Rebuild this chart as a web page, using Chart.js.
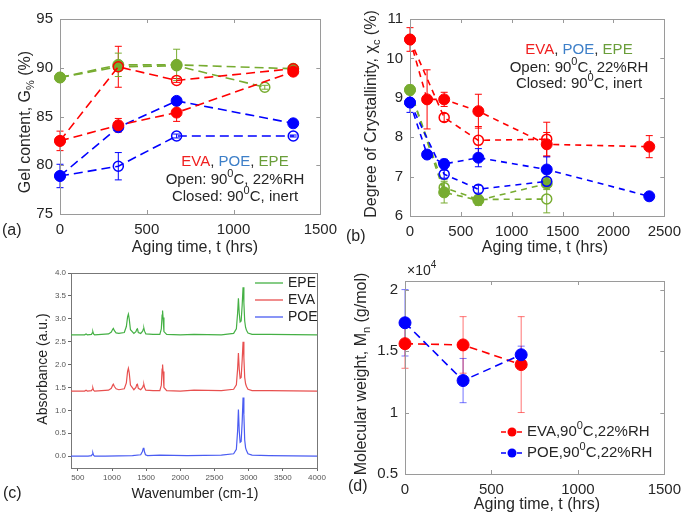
<!DOCTYPE html>
<html>
<head>
<meta charset="utf-8">
<script src="https://cdn.jsdelivr.net/npm/chart.js@4.4.1/dist/chart.umd.min.js"></script>
<style>
  body { margin: 0; background: #fff; }
  canvas { position: absolute; }
</style>
</head>
<body>
<canvas id="gelChart" width="344" height="256" style="left:0;top:0"></canvas>
<canvas id="crystChart" width="344" height="256" style="left:344px;top:0"></canvas>
<canvas id="ftirChart" width="344" height="256" style="left:0;top:256px"></canvas>
<canvas id="mnChart" width="344" height="256" style="left:344px;top:256px"></canvas>
<script>
// ---- (a) gel content, % ----
const gelTimes = [0, 336, 672, 1344];
const gelEpeClosedTimes = [0, 336, 672, 1180];
const gelEvaOpen = [82.5, 84.1, 85.4, 89.6];
const gelEvaOpenErr = [1.0, 0.7, 0.9, 0.2];
const gelEvaClosed = [82.5, 90.1, 88.7, 89.9];
const gelEvaClosedErr = [0, 2.1, 0.2, 0.2];
const gelPoeOpen = [78.9, 83.9, 86.6, 84.3];
const gelPoeOpenErr = [1.2, 0.3, 0.2, 0.2];
const gelPoeClosed = [78.9, 79.9, 83.0, 83.0];
const gelPoeClosedErr = [0, 1.4, 0.2, 0.1];
const gelEpeOpen = [89.0, 90.3, 90.3, 89.9];
const gelEpeOpenErr = [0.2, 1.2, 1.6, 0.3];
const gelEpeClosed = [89.0, 90.1, 90.2, 88.0];
const gelEpeClosedErr = [0, 0.4, 0.3, 0.2];
const gelXTicks = [0, 500, 1000, 1500];
const gelYTicks = [75, 80, 85, 90, 95];

// ---- (b) degree of crystallinity, % ----
const crOpenTimes = [0, 168, 336, 672, 1344, 2352];
const crShortTimes = [0, 336, 672, 1344];
const crEvaOpen = [10.48, 8.96, 8.96, 8.66, 7.82, 7.76];
const crEvaOpenErr = [0.3, 0.75, 0.18, 0.43, 0.3, 0.28];
const crEvaClosed = [10.48, 8.5, 7.92, 7.95];
const crEvaClosedErr = [0, 0.1, 0.35, 0.43];
const crPoeOpen = [8.88, 7.56, 7.32, 7.48, 7.18, 6.5];
const crPoeOpenErr = [0.25, 0.05, 0.12, 0.23, 0.32, 0.05];
const crPoeClosed = [8.88, 7.06, 6.68, 6.88];
const crPoeClosedErr = [0, 0.1, 0.1, 0.1];
const crEpeOpen = [9.2, 6.6, 6.4, 6.82];
const crEpeOpenErr = [0.12, 0.27, 0.13, 0.15];
const crEpeClosed = [9.2, 6.72, 6.42, 6.43];
const crEpeClosedErr = [0, 0.2, 0.1, 0.35];
const crXTicks = [0, 500, 1000, 1500, 2000, 2500];
const crYTicks = [6, 7, 8, 9, 10, 11];

// ---- (c) FTIR spectra ----
const wnPoe = [400, 650, 700, 712, 720, 730, 745, 900, 1300, 1420, 1445, 1458, 1466, 1474, 1490, 1520,
  1700, 2100, 2600, 2780, 2820, 2838, 2850, 2862, 2875, 2890, 2905, 2918, 2930, 2942, 2955, 2968,
  2990, 3050, 3300, 4000];
const absPoe = [0.00, 0.00, 0.01, 0.04, 0.07, 0.02, 0.00, 0.00, 0.01, 0.03, 0.10, 0.17, 0.18, 0.10, 0.03, 0.01,
  0.02, 0.01, 0.02, 0.05, 0.15, 0.55, 1.02, 0.55, 0.30, 0.32, 0.75, 1.28, 0.90, 0.35, 0.18, 0.12,
  0.05, 0.02, 0.01, 0.00];
const wnEvaEpe = [400, 600, 620, 640, 700, 712, 720, 730, 745, 950, 990, 1010, 1020, 1035, 1060, 1100,
  1180, 1210, 1228, 1240, 1252, 1270, 1320, 1350, 1362, 1372, 1385, 1420, 1448, 1460, 1467, 1476,
  1495, 1600, 1700, 1722, 1733, 1740, 1747, 1760, 1800, 2000, 2200, 2600, 2780, 2820, 2838, 2850,
  2862, 2875, 2890, 2905, 2918, 2930, 2942, 2955, 2968, 2990, 3050, 3300, 4000];
const absEva = [1.42, 1.42, 1.44, 1.42, 1.43, 1.46, 1.49, 1.44, 1.42, 1.44, 1.48, 1.55, 1.57, 1.52, 1.47, 1.45,
  1.47, 1.60, 1.85, 1.92, 1.82, 1.55, 1.45, 1.50, 1.56, 1.57, 1.48, 1.45, 1.50, 1.55, 1.56, 1.50,
  1.44, 1.43, 1.43, 1.55, 1.90, 2.00, 1.85, 1.50, 1.43, 1.42, 1.44, 1.43, 1.46, 1.56, 1.90, 2.25,
  1.90, 1.70, 1.72, 2.10, 2.50, 2.15, 1.72, 1.58, 1.52, 1.46, 1.43, 1.43, 1.42];
const absEpe = [2.65, 2.65, 2.67, 2.65, 2.66, 2.69, 2.72, 2.67, 2.65, 2.67, 2.71, 2.77, 2.79, 2.74, 2.69, 2.68,
  2.70, 2.83, 3.04, 3.10, 3.00, 2.76, 2.68, 2.72, 2.77, 2.78, 2.70, 2.68, 2.73, 2.78, 2.79, 2.73,
  2.67, 2.66, 2.66, 2.78, 3.08, 3.18, 3.03, 2.72, 2.66, 2.65, 2.66, 2.65, 2.68, 2.78, 3.12, 3.45,
  3.12, 2.93, 2.95, 3.30, 3.69, 3.35, 2.95, 2.81, 2.75, 2.69, 2.66, 2.66, 2.65];
const ftirXTicks = [500, 1000, 1500, 2000, 2500, 3000, 3500, 4000];
const ftirYTicks = [0, 0.5, 1, 1.5, 2, 2.5, 3, 3.5, 4];

// ---- (d) number-average molecular weight, x10^4 g/mol ----
const mnTimes = [0, 336, 672];
const mnEva = [1.56, 1.55, 1.39];
const mnEvaErr = [0.2, 0.23, 0.39];
const mnPoe = [1.73, 1.26, 1.47];
const mnPoeErr = [0.27, 0.18, 0.07];
const mnXTicks = [0, 500, 1000, 1500];
const mnYTicks = [0.5, 1, 1.5, 2];

const RED = '#ff0000';
const BLUE = '#0000ff';
const GREEN = '#77ac30';
const TXT = '#262626';

Chart.defaults.font.family = "'Liberation Sans', Arial, sans-serif";
Chart.defaults.animation = false;
Chart.defaults.plugins.legend.display = false;
Chart.defaults.plugins.tooltip.enabled = false;

// Vertical error bars with caps, drawn under the markers
const errorBarPlugin = {
    id: 'errorBars',
    beforeDatasetsDraw(chart) {
        const ctx = chart.ctx;
        const yScale = chart.scales.y;
        chart.data.datasets.forEach((ds, i) => {
            if (!ds.errors) return;
            const meta = chart.getDatasetMeta(i);
            ctx.save();
            ctx.strokeStyle = ds.errorColor || ds.borderColor;
            ctx.lineWidth = 1;
            meta.data.forEach((pt, j) => {
                const e = ds.errors[j];
                if (!e) return;
                const v = ds.data[j].y;
                const top = yScale.getPixelForValue(v + e);
                const bot = yScale.getPixelForValue(v - e);
                ctx.beginPath();
                ctx.moveTo(pt.x, top); ctx.lineTo(pt.x, bot);
                ctx.moveTo(pt.x - 3.5, top); ctx.lineTo(pt.x + 3.5, top);
                ctx.moveTo(pt.x - 3.5, bot); ctx.lineTo(pt.x + 3.5, bot);
                ctx.stroke();
            });
            ctx.restore();
        });
    }
};

// Box around the plot area, optionally with inward ticks on every side
const framePlugin = {
    id: 'frame',
    beforeDatasetsDraw(chart, args, opts) {
        const { ctx, chartArea: a, scales } = chart;
        ctx.save();
        ctx.strokeStyle = opts.color || '#999';
        ctx.lineWidth = 1;
        ctx.strokeRect(Math.round(a.left) + 0.5, Math.round(a.top) + 0.5,
            Math.round(a.right - a.left), Math.round(a.bottom - a.top));
        if (opts.inwardTicks) {
            const len = 4;
            ctx.beginPath();
            scales.x.ticks.forEach(t => {
                const px = Math.round(scales.x.getPixelForValue(t.value)) + 0.5;
                ctx.moveTo(px, a.bottom); ctx.lineTo(px, a.bottom - len);
                ctx.moveTo(px, a.top); ctx.lineTo(px, a.top + len);
            });
            scales.y.ticks.forEach(t => {
                const py = Math.round(scales.y.getPixelForValue(t.value)) + 0.5;
                ctx.moveTo(a.left, py); ctx.lineTo(a.left + len, py);
                ctx.moveTo(a.right, py); ctx.lineTo(a.right - len, py);
            });
            ctx.stroke();
        }
        ctx.restore();
    }
};

function fontFor(part, size) {
    const s = (part.sub || part.sup) ? Math.round(size * 0.7) : size;
    return s + "px 'Liberation Sans', Arial, sans-serif";
}

// Text with coloured runs, subscripts and superscripts
function drawRich(ctx, item) {
    const size = item.size || 15;
    const parts = item.parts.map(p => (typeof p === 'string' ? { t: p } : p));
    ctx.save();
    ctx.translate(item.x, item.y);
    if (item.rotate) ctx.rotate(item.rotate);
    ctx.textBaseline = 'middle';
    ctx.textAlign = 'left';
    let total = 0;
    const widths = parts.map(p => {
        ctx.font = fontFor(p, size);
        const w = ctx.measureText(p.t).width;
        total += w;
        return w;
    });
    let x = item.align === 'left' ? 0 : -total / 2;
    parts.forEach((p, i) => {
        ctx.font = fontFor(p, size);
        ctx.fillStyle = p.color || item.color || TXT;
        const dy = p.sub ? size * 0.3 : p.sup ? -size * 0.38 : 0;
        ctx.fillText(p.t, x, dy);
        x += widths[i];
    });
    ctx.restore();
}

// Titles, notes and hand-drawn legends; kept out of chart options so
// the option resolver leaves the plain strings alone
function makeTextPlugin(items, legend) {
    return {
        id: 'panelText',
        afterDraw(chart) {
            const ctx = chart.ctx;
            (legend || []).forEach(entry => {
                ctx.save();
                ctx.strokeStyle = entry.color;
                ctx.lineWidth = entry.lineWidth || 1.5;
                ctx.setLineDash(entry.dash || []);
                ctx.beginPath();
                ctx.moveTo(entry.x0, entry.y);
                ctx.lineTo(entry.x1, entry.y);
                ctx.stroke();
                if (entry.marker) {
                    ctx.fillStyle = entry.color;
                    ctx.beginPath();
                    ctx.arc((entry.x0 + entry.x1) / 2, entry.y, entry.marker, 0, Math.PI * 2);
                    ctx.fill();
                }
                ctx.restore();
            });
            items.forEach(item => drawRich(ctx, item));
        }
    };
}

function series(color, times, values, errors, hollow, dash) {
    return {
        data: times.map((t, i) => ({ x: t, y: values[i] })),
        errors: errors,
        borderColor: color,
        borderWidth: 1.6,
        borderDash: dash,
        pointRadius: hollow ? 5 : 5.5,
        pointBorderWidth: hollow ? 1.5 : 1,
        pointBackgroundColor: hollow ? 'rgba(0,0,0,0)' : color,
        pointBorderColor: color,
        fill: false,
        tension: 0,
        clip: false
    };
}

function spectrum(color, wn, values) {
    return {
        data: wn.map((w, i) => ({ x: w, y: values[i] })),
        borderColor: color,
        borderWidth: 1.2,
        pointRadius: 0,
        fill: false,
        tension: 0
    };
}

// Axis with fixed tick list and fixed thickness
function matlabAxis(min, max, tickValues, fit) {
    return {
        type: 'linear',
        min: min,
        max: max,
        afterBuildTicks: a => { a.ticks = tickValues.map(v => ({ value: v })); },
        afterFit: fit,
        grid: { display: false, drawTicks: false },
        border: { display: false },
        ticks: {
            font: { size: 15 }, color: TXT, padding: 7,
            maxRotation: 0, autoSkip: false, callback: v => String(v)
        }
    };
}

const evaTxt = '#f02020', poeTxt = '#3d7fc8', epeTxt = '#6a9e3a';
function conditionsText(cx, y0, y1, y2) {
    return [
        { parts: [{ t: 'EVA', color: evaTxt }, ', ', { t: 'POE', color: poeTxt }, ', ', { t: 'EPE', color: epeTxt }], x: cx, y: y0, size: 15 },
        { parts: ['Open: 90', { t: '0', sup: true }, 'C, 22%RH'], x: cx, y: y1, size: 15 },
        { parts: ['Closed: 90', { t: '0', sup: true }, 'C, inert'], x: cx, y: y2, size: 15 }
    ];
}

function buildGelChart() {
    const dA = [9, 5];
    const texts = [
        { parts: ['Gel content, G', { t: '%', sub: true }, ' (%)'], x: 26, y: 122, rotate: -Math.PI / 2, size: 16 },
        { parts: ['Aging time, t (hrs)'], x: 195, y: 248, size: 16 },
        { parts: ['(a)'], x: 2, y: 231, size: 16, align: 'left' }
    ].concat(conditionsText(235, 162, 180, 197));
    new Chart(document.getElementById('gelChart'), {
        type: 'line',
        data: {
            datasets: [
                series(RED, gelTimes, gelEvaClosed, gelEvaClosedErr, true, dA),
                series(RED, gelTimes, gelEvaOpen, gelEvaOpenErr, false, dA),
                series(BLUE, gelTimes, gelPoeOpen, gelPoeOpenErr, false, dA),
                series(BLUE, gelTimes, gelPoeClosed, gelPoeClosedErr, true, dA),
                series(GREEN, gelTimes, gelEpeOpen, gelEpeOpenErr, false, dA),
                series(GREEN, gelEpeClosedTimes, gelEpeClosed, gelEpeClosedErr, true, dA)
            ]
        },
        options: {
            responsive: false,
            layout: { padding: { left: 0, top: 19, right: 23, bottom: 0 } },
            scales: {
                x: matlabAxis(0, 1500, gelXTicks, s => { s.height = 42; }),
                y: matlabAxis(75, 95, gelYTicks, s => { s.width = 60; })
            },
            plugins: { frame: { inwardTicks: true, color: '#9a9a9a' } }
        },
        plugins: [errorBarPlugin, framePlugin, makeTextPlugin(texts)]
    });
}

function buildCrystChart() {
    const dB = [6, 5];
    const texts = [
        { parts: ['Degree of Crystallinity, \u03c7', { t: 'c', sub: true }, ' (%)'], x: 28, y: 114, rotate: -Math.PI / 2, size: 16 },
        { parts: ['Aging time, t (hrs)'], x: 201, y: 248, size: 16 },
        { parts: ['(b)'], x: 2, y: 237, size: 16, align: 'left' }
    ].concat(conditionsText(235, 50, 68, 84));
    new Chart(document.getElementById('crystChart'), {
        type: 'line',
        data: {
            datasets: [
                series(RED, crOpenTimes, crEvaOpen, crEvaOpenErr, false, dB),
                series(RED, crShortTimes, crEvaClosed, crEvaClosedErr, true, dB),
                series(BLUE, crOpenTimes, crPoeOpen, crPoeOpenErr, false, dB),
                series(BLUE, crShortTimes, crPoeClosed, crPoeClosedErr, true, dB),
                series(GREEN, crShortTimes, crEpeOpen, crEpeOpenErr, false, dB),
                series(GREEN, crShortTimes, crEpeClosed, crEpeClosedErr, true, dB)
            ]
        },
        options: {
            responsive: false,
            layout: { padding: { left: 0, top: 19, right: 18, bottom: 0 } },
            scales: {
                x: matlabAxis(0, 2500, crXTicks, s => { s.height = 40; }),
                y: matlabAxis(6, 11, crYTicks, s => { s.width = 66; })
            },
            plugins: { frame: { inwardTicks: true, color: '#9a9a9a' } }
        },
        plugins: [errorBarPlugin, framePlugin, makeTextPlugin(texts)]
    });
}

function buildFtirChart() {
    const gC = '#45b045', rC = '#e8504f', bC = '#4a5cf2';
    const legend = [
        { color: gC, x0: 255, x1: 283, y: 27, lineWidth: 1.3 },
        { color: rC, x0: 255, x1: 283, y: 44, lineWidth: 1.3 },
        { color: bC, x0: 255, x1: 283, y: 61, lineWidth: 1.3 }
    ];
    const texts = [
        { parts: ['EPE'], x: 288, y: 27, size: 14, align: 'left', color: '#222' },
        { parts: ['EVA'], x: 288, y: 44, size: 14, align: 'left', color: '#222' },
        { parts: ['POE'], x: 288, y: 61, size: 14, align: 'left', color: '#222' },
        { parts: ['Absorbance (a.u.)'], x: 43, y: 113, rotate: -Math.PI / 2, size: 14, color: '#222' },
        { parts: ['Wavenumber (cm-1)'], x: 195, y: 238, size: 14, color: '#222' },
        { parts: ['(c)'], x: 3, y: 238, size: 16, align: 'left', color: '#222' }
    ];
    new Chart(document.getElementById('ftirChart'), {
        type: 'line',
        data: {
            datasets: [
                spectrum(gC, wnEvaEpe, absEpe),
                spectrum(rC, wnEvaEpe, absEva),
                spectrum(bC, wnPoe, absPoe)
            ]
        },
        options: {
            responsive: false,
            layout: { padding: { left: 0, top: 17, right: 27, bottom: 0 } },
            scales: {
                x: {
                    type: 'linear', min: 400, max: 4000,
                    afterBuildTicks: a => { a.ticks = ftirXTicks.map(v => ({ value: v })); },
                    afterFit: s => { s.height = 44; },
                    grid: { drawOnChartArea: false, tickLength: 3, color: '#666' },
                    border: { display: true, color: '#666' },
                    ticks: { font: { size: 8 }, color: '#555', padding: 2, maxRotation: 0, autoSkip: false, callback: v => String(v) }
                },
                y: {
                    type: 'linear', min: -0.26, max: 4,
                    afterBuildTicks: a => { a.ticks = ftirYTicks.map(v => ({ value: v })); },
                    afterFit: s => { s.width = 71; },
                    grid: { drawOnChartArea: false, tickLength: 3, color: '#666' },
                    border: { display: true, color: '#666' },
                    ticks: { font: { size: 8 }, color: '#555', padding: 2, autoSkip: false, callback: v => v.toFixed(1) }
                }
            },
            plugins: { frame: { color: '#777' } }
        },
        plugins: [framePlugin, makeTextPlugin(texts, legend)]
    });
}

function buildMnChart() {
    const dD = [8, 5];
    const eva = series(RED, mnTimes, mnEva, mnEvaErr, false, dD);
    const poe = series(BLUE, mnTimes, mnPoe, mnPoeErr, false, dD);
    eva.errorColor = 'rgba(255,0,0,0.55)';
    poe.errorColor = 'rgba(0,0,255,0.55)';
    eva.pointRadius = poe.pointRadius = 6;
    const legend = [
        { color: RED, x0: 157, x1: 179, y: 176, dash: [5, 3], marker: 4.5 },
        { color: BLUE, x0: 157, x1: 179, y: 197, dash: [5, 3], marker: 4.5 }
    ];
    const texts = [
        { parts: ['EVA,90', { t: '0', sup: true }, 'C,22%RH'], x: 183, y: 176, size: 15, align: 'left' },
        { parts: ['POE,90', { t: '0', sup: true }, 'C,22%RH'], x: 183, y: 197, size: 15, align: 'left' },
        { parts: ['\u00d710', { t: '4', sup: true }], x: 63, y: 15, size: 14, align: 'left' },
        { parts: ['Molecular weight, M', { t: 'n', sub: true }, ' (g/mol)'], x: 18, y: 118, rotate: -Math.PI / 2, size: 16 },
        { parts: ['Aging time, t (hrs)'], x: 193, y: 249, size: 16 },
        { parts: ['(d)'], x: 4, y: 231, size: 16, align: 'left' }
    ];
    new Chart(document.getElementById('mnChart'), {
        type: 'line',
        data: { datasets: [poe, eva] },
        options: {
            responsive: false,
            layout: { padding: { left: 0, top: 25, right: 22, bottom: 0 } },
            scales: {
                x: matlabAxis(0, 1500, mnXTicks, s => { s.height = 38; }),
                y: matlabAxis(0.5, 2.07, mnYTicks, s => { s.width = 61; })
            },
            plugins: { frame: { inwardTicks: true, color: '#9a9a9a' } }
        },
        plugins: [errorBarPlugin, framePlugin, makeTextPlugin(texts, legend)]
    });
}

buildGelChart();
buildCrystChart();
buildFtirChart();
buildMnChart();
</script>
</body>
</html>
